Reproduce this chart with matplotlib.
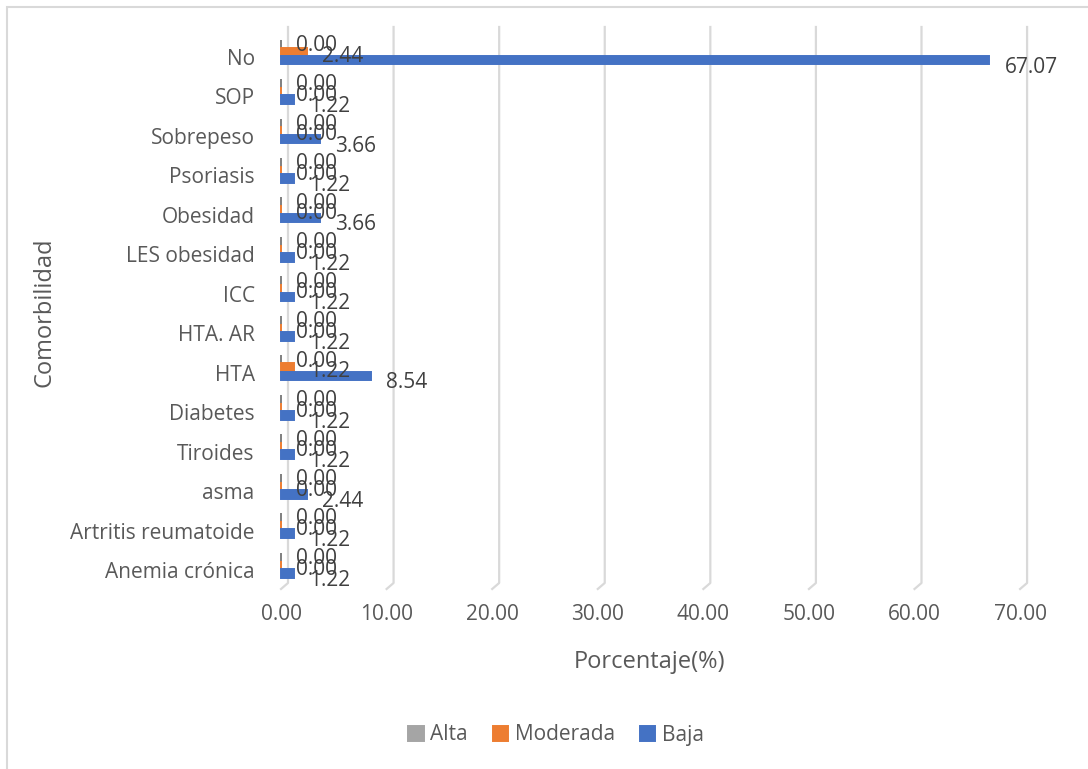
import numpy as np
import matplotlib
matplotlib.use('Agg')
import matplotlib.pyplot as plt
from matplotlib.patches import Rectangle

plt.rcParams['font.family'] = ['Open Sans', 'DejaVu Sans']

# comorbidities, listed bottom to top
categorias = ['Anemia crónica', 'Artritis reumatoide', 'asma', 'Tiroides', 'Diabetes',
              'HTA', 'HTA. AR', 'ICC', 'LES obesidad', 'Obesidad', 'Psoriasis',
              'Sobrepeso', 'SOP', 'No']
alta = [0, 0, 0, 0, 0, 0, 0, 0, 0, 0, 0, 0, 0, 0]
moderada = [0, 0, 0, 0, 0, 1.22, 0, 0, 0, 0, 0, 0, 0, 2.44]
baja = [1.22, 1.22, 2.44, 1.22, 1.22, 8.54, 1.22, 1.22, 1.22, 3.66, 1.22, 3.66, 1.22, 67.07]
xticks = [0, 10, 20, 30, 40, 50, 60, 70]

GRIS = '#A5A5A5'
NARANJA = '#ED7D31'
AZUL = '#4472C4'
TXT = '#595959'
LBL = '#404040'
GRID = '#D9D9D9'

fig = plt.figure(figsize=(10.88, 7.69), dpi=100)
ax = fig.add_axes([0.2583, 0.2341, 0.6793, 0.7308])

y = np.arange(len(categorias))
h = 0.22
# name, values, fill, edge, vertical offset, label nudge (pt)
series = [('Alta', alta, GRIS, '#7F7F7F', 0.33, -1),
          ('Moderada', moderada, NARANJA, NARANJA, 0.13, -3),
          ('Baja', baja, AZUL, AZUL, -0.08, -5)]

# back-wall gridlines with a small floor slant (3D look)
dx = 0.66
dy = 6 / 562
for t in xticks:
    ax.plot([t, t + dx, t + dx], [0, dy, 1], color=GRID, lw=1.6,
            transform=ax.get_xaxis_transform(), zorder=0, clip_on=False)

for nombre, vals, col, borde, off, lbl_dy in series:
    bars = ax.barh(y + off, vals, height=h, color=col, edgecolor=borde, linewidth=1.4,
                   label=nombre, zorder=2)
    for b in bars:
        b.set_clip_on(False)
    for yi, v in zip(y, vals):
        ax.annotate('%.2f' % v, (v, yi + off), xytext=(11, lbl_dy),
                    textcoords='offset points', ha='left', va='center',
                    fontsize=15, color=LBL, zorder=3)

ax.set_xlim(0, 70)
ax.set_ylim(-0.48, 13.76)
ax.set_xticks(xticks)
ax.set_xticklabels(['%.2f' % t for t in xticks])
ax.set_yticks(y)
ax.set_yticklabels(categorias)
ax.tick_params(axis='both', length=0, labelcolor=TXT)
ax.tick_params(axis='x', pad=11, labelsize=15)
ax.tick_params(axis='y', pad=19, labelsize=15)
for s in ax.spines.values():
    s.set_visible(False)
ax.patch.set_visible(False)

fig.text(650 / 1088, 1 - 662 / 769, 'Porcentaje(%)', ha='center', va='center',
         fontsize=17, color=TXT)
fig.text(45 / 1088, 1 - 312 / 769, 'Comorbilidad', ha='center', va='center',
         rotation=90, fontsize=17, color=TXT)

leg = ax.legend(loc='center', bbox_to_anchor=(556 / 1088, 1 - 735 / 769),
                bbox_transform=fig.transFigure, ncol=3, frameon=False, fontsize=15,
                handlelength=0.75, handleheight=0.75, handletextpad=0.3,
                columnspacing=1.2, labelcolor=TXT)
for hnd in leg.legend_handles:
    hnd.set_edgecolor(hnd.get_facecolor())

# chart area border
fig.patches.append(Rectangle((7 / 1088, -0.1), 1.2, 1.1 - 7 / 769,
                             transform=fig.transFigure, fill=False,
                             edgecolor=GRID, lw=1.5))

fig.savefig('out.png', dpi=100)
